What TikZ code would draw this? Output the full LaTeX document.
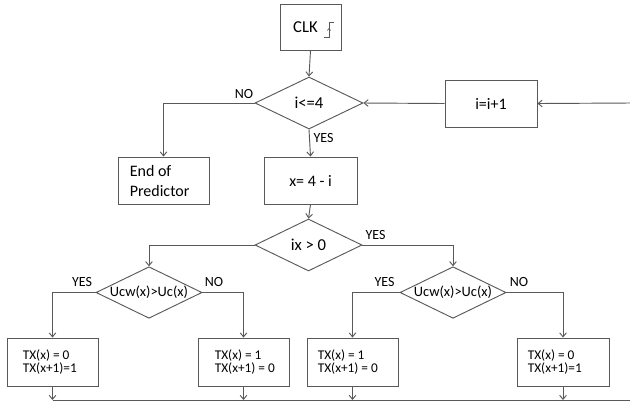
\documentclass[tikz,border=0pt]{standalone}
\usepackage{fontspec}
\setmainfont{Carlito}
\usetikzlibrary{shapes.geometric,arrows.meta}
\definecolor{ln}{HTML}{595959}
\begin{document}
\begin{tikzpicture}[x=0.75pt,y=-0.75pt,
 box/.style={draw=ln, line width=0.7pt, rectangle, inner sep=0pt, font=\fontsize{12}{15}\selectfont},
 tbox/.style={draw=ln, line width=0.7pt, rectangle, inner sep=0pt, minimum width=68.25pt, minimum height=36pt},
 ttext/.style={anchor=west, align=left, inner sep=0pt, font=\fontsize{10}{10}\selectfont},
 dia/.style={draw=ln, line width=0.7pt, diamond, inner sep=0pt, aspect=2},
 conn/.style={draw=ln, line width=0.7pt, -{Straight Barb[length=3pt,width=5pt]}},
 plain/.style={draw=ln, line width=0.7pt},
 lab/.style={font=\fontsize{10.5}{12}\selectfont, inner sep=0pt}]
\useasboundingbox (0,0) rectangle (630,405);

% top
\node[box, minimum width=45.75pt, minimum height=34.5pt] (clk) at (310.5,27) {};
\node[font=\fontsize{12.5}{15}\selectfont, inner sep=0pt] (clkt) at (305.5,27) {CLK};
\draw[plain] (324,37) -- (329,37) -- (329,22) -- (334,22);
\draw[draw=ln, line width=0.5pt, -{Straight Barb[length=1.5pt,width=2.5pt]}] (329,33) -- (329,28);

\node[dia, minimum width=81pt, minimum height=39pt, font=\fontsize{12.5}{15}\selectfont] (d1) at (309,103) {i<=4};
\node[box, minimum width=69pt, minimum height=35.25pt] (inc) at (491,103.5) {i=i+1};
\node[box, minimum width=69.75pt, minimum height=35.25pt] (xb) at (310.5,180.5) {x= 4 - i};
\node[box, minimum width=68.25pt, minimum height=35.25pt] (endb) at (163.5,180.5) {};
\node[anchor=west, align=left, inner sep=0pt, font=\fontsize{12}{15}\selectfont] (endt) at ([xshift=9pt]endb.west) {End of\\Predictor};
\coordinate (rin) at (630,103);

\node[dia, minimum width=80.25pt, minimum height=39pt, font=\fontsize{12.5}{15}\selectfont] (d2) at (308.5,245) {ix > 0};
\node[dia, minimum width=79.5pt, minimum height=38.25pt, font=\fontsize{10.8}{12}\selectfont] (d3) at (149,292.5) {Ucw(x)>Uc(x)};
\node[dia, minimum width=79.5pt, minimum height=38.25pt, font=\fontsize{10.8}{12}\selectfont] (d4) at (453,292.5) {Ucw(x)>Uc(x)};

\node[tbox] (b1) at (52.5,362) {};
\node[tbox] (b2) at (243.5,362) {};
\node[tbox] (b3) at (352.5,362) {};
\node[tbox, minimum width=69pt] (b4) at (563,362) {};
\node[ttext] (b1t) at ([xshift=12pt]b1.west) {TX(x) = 0\\TX(x+1)=1};
\node[ttext] (b2t) at ([xshift=12.75pt]b2.west) {TX(x) = 1\\TX(x+1) = 0};
\node[ttext] (b3t) at ([xshift=8.25pt]b3.west) {TX(x) = 1\\TX(x+1) = 0};
\node[ttext] (b4t) at ([xshift=8.25pt]b4.west) {TX(x) = 0\\TX(x+1)=1};

\coordinate (bl) at (50,400);
\coordinate (br) at (630,400);

% connectors
\draw[conn] (clk.south) -- (d1.north);
\draw[conn] (rin) -- (inc.east);
\draw[conn] (inc.west) -- (d1.east);
\draw[conn] (d1.west) -| (endb.north);
\draw[conn] (d1.south) -- (xb.north);
\draw[conn] (xb.south) -- (d2.north);
\draw[conn] (d2.west) -| (d3.north);
\draw[conn] (d2.east) -| (d4.north);
\draw[conn] (d3.west) -| (b1.north);
\draw[conn] (d3.east) -| (b2.north);
\draw[conn] (d4.west) -| (b3.north);
\draw[conn] (d4.east) -| (b4.north);
\draw[conn] (b1.south) -- (b1.south |- bl);
\draw[conn] (b2.south) -- (b2.south |- bl);
\draw[conn] (b3.south) -- (b3.south |- bl);
\draw[conn] (b4.south) -- (b4.south |- bl);
\draw[plain] (b1.south |- bl) -- (br);

% labels
\node[lab] (l1) at (244,94) {NO};
\node[lab] (l2) at (323.5,138) {YES};
\node[lab] (l3) at (375.5,235) {YES};
\node[lab] (l4) at (82,282) {YES};
\node[lab] (l5) at (214,282) {NO};
\node[lab] (l6) at (384.5,282) {YES};
\node[lab] (l7) at (519,282) {NO};
\end{tikzpicture}
\end{document}
